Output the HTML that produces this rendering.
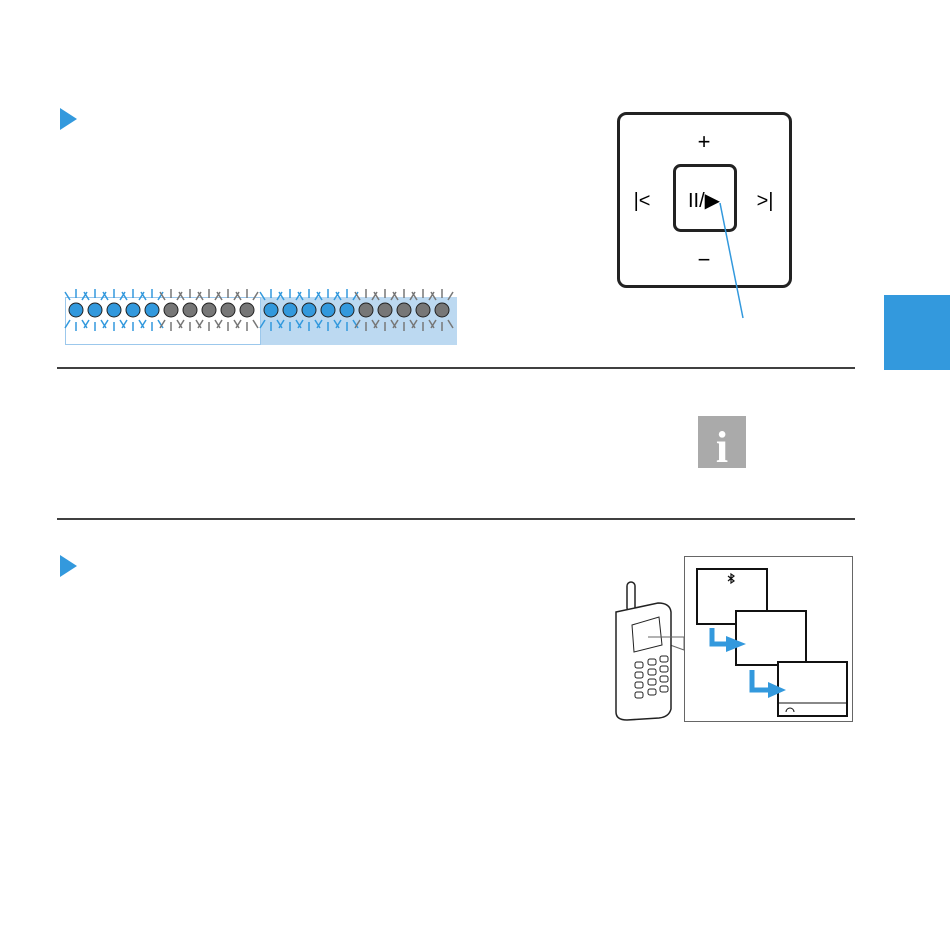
<html><body style="margin:0;background:#fff">
<svg width="950" height="950" xmlns="http://www.w3.org/2000/svg" style="display:block">
<rect x="884" y="295" width="66" height="75" fill="#3399dd"/>
<polygon points="60,108 77,119 60,130" fill="#3399dd"/>
<polygon points="60,555 77,566 60,577" fill="#3399dd"/>
<line x1="57" y1="368" x2="855" y2="368" stroke="#000" stroke-width="1.5"/>
<line x1="57" y1="519" x2="855" y2="519" stroke="#000" stroke-width="1.5"/>
<rect x="260" y="297" width="197" height="48" fill="#bcd9f1"/>
<rect x="65.5" y="297.5" width="195" height="47" fill="none" stroke="#9cc8ec"/>
<g id="dots"></g>
<rect x="618.5" y="113.5" width="172" height="173" rx="8" fill="none" stroke="#222" stroke-width="3"/>
<rect x="674.5" y="165.5" width="61" height="65" rx="6" fill="none" stroke="#222" stroke-width="3"/>
<text x="704" y="149" font-family="Liberation Sans" font-size="22" text-anchor="middle">+</text>
<text x="704" y="267" font-family="Liberation Sans" font-size="22" text-anchor="middle">−</text>
<text x="642" y="207" font-family="Liberation Sans" font-size="20" text-anchor="middle">|&lt;</text>
<text x="765" y="207" font-family="Liberation Sans" font-size="20" text-anchor="middle">&gt;|</text>
<text x="704" y="207" font-family="Liberation Sans" font-size="20" text-anchor="middle">II/▶</text>
<line x1="720" y1="203" x2="743" y2="318" stroke="#3399dd" stroke-width="1.5"/>
<rect x="698" y="416" width="48" height="52" fill="#aaa"/>
<text x="722" y="462" font-family="Liberation Serif" font-size="44" font-weight="bold" fill="#fff" text-anchor="middle">i</text>
<rect x="684.5" y="556.5" width="168" height="165" fill="none" stroke="#666"/>
<polygon points="648,637 684,637 684,650" fill="#fff" stroke="#666"/>
<rect x="697" y="569" width="70" height="55" fill="#fff" stroke="#111" stroke-width="2"/>
<path d="M728,576 l6,5 l-3,2 v-9 l3,2 l-6,5" fill="none" stroke="#111" stroke-width="1.2"/>
<rect x="736" y="611" width="70" height="54" fill="#fff" stroke="#111" stroke-width="2"/>
<rect x="778" y="662" width="69" height="54" fill="#fff" stroke="#111" stroke-width="2"/>
<line x1="778" y1="703" x2="847" y2="703" stroke="#111"/>
<path d="M786,712 a4,4 0 0 1 8,0" fill="none" stroke="#111"/>
<path d="M712,628 v16 h16" fill="none" stroke="#3399dd" stroke-width="5"/>
<polygon points="726,636 746,644 726,652" fill="#3399dd"/>
<path d="M752,670 v20 h18" fill="none" stroke="#3399dd" stroke-width="5"/>
<polygon points="768,682 786,690 768,698" fill="#3399dd"/>
<rect x="627" y="582" width="8" height="30" rx="4" fill="#fff" stroke="#222" stroke-width="1.5"/>
<path d="M616,612 l42,-9 q12,0 13,9 v97 q-2,8 -12,9 l-32,2 q-11,0 -11,-8 z" fill="#fff" stroke="#222" stroke-width="1.5"/>
<polygon points="632,625 659,617 662,645 634,652" fill="none" stroke="#222"/>
<line x1="648" y1="637" x2="684" y2="637" stroke="#666"/>
<g fill="none" stroke="#222">
<rect x="635" y="662" width="8" height="6" rx="2"/><rect x="648" y="659" width="8" height="6" rx="2"/><rect x="660" y="656" width="8" height="6" rx="2"/>
<rect x="635" y="672" width="8" height="6" rx="2"/><rect x="648" y="669" width="8" height="6" rx="2"/><rect x="660" y="666" width="8" height="6" rx="2"/>
<rect x="635" y="682" width="8" height="6" rx="2"/><rect x="648" y="679" width="8" height="6" rx="2"/><rect x="660" y="676" width="8" height="6" rx="2"/>
<rect x="635" y="692" width="8" height="6" rx="2"/><rect x="648" y="689" width="8" height="6" rx="2"/><rect x="660" y="686" width="8" height="6" rx="2"/>
</g>
</svg>
<script>
var g=document.getElementById('dots'),s='';
for(var i=0;i<20;i++){var x=i<10?76+i*19:271+(i-10)*19;var b=(i%10)<5;var c=b?'#3399dd':'#777';
s+='<g stroke="'+c+'" stroke-width="1.5"><line x1="'+x+'" y1="289" x2="'+x+'" y2="298"/><line x1="'+x+'" y1="322" x2="'+x+'" y2="331"/><line x1="'+(x+6)+'" y1="300" x2="'+(x+11)+'" y2="292"/><line x1="'+(x-6)+'" y1="300" x2="'+(x-11)+'" y2="292"/><line x1="'+(x-6)+'" y1="320" x2="'+(x-11)+'" y2="328"/><line x1="'+(x+6)+'" y1="320" x2="'+(x+11)+'" y2="328"/></g>';}
for(var i=0;i<20;i++){var x=i<10?76+i*19:271+(i-10)*19;var c=(i%10)<5?'#3399dd':'#777';
s+='<circle cx="'+x+'" cy="310" r="7" fill="'+c+'" stroke="#222"/>';}
g.innerHTML=s;
</script>
</body></html>
